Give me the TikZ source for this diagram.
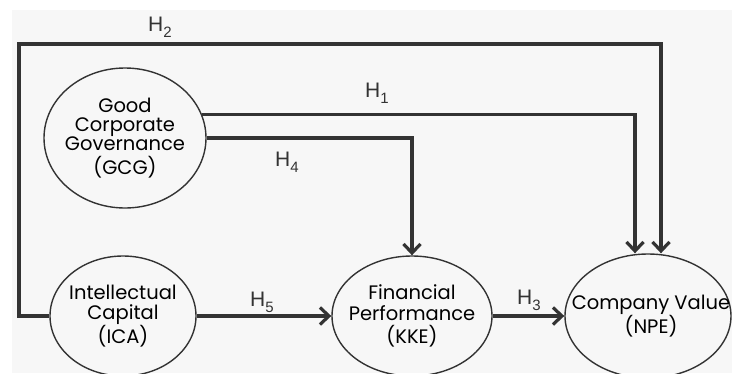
\documentclass[tikz,border=0pt]{standalone}
\usepackage{fontspec}
\setmainfont{Poppins}
\newfontfamily\hfont{Liberation Sans}
\usetikzlibrary{shapes.geometric,arrows.meta}
\definecolor{bgcol}{HTML}{F7F7F7}
\definecolor{linecol}{HTML}{333333}
\newcommand{\hyp}[1]{H\raisebox{-0.28em}{\fontsize{15}{15}\selectfont #1}}
\newcommand{\vartext}[1]{\makebox[0pt]{\smash{\raisebox{-6pt}{\begin{tabular}{@{}c@{}}#1\end{tabular}}}}}

\begin{document}
\begin{tikzpicture}[x=1pt,y=-1pt,
  var/.style={draw=linecol, line width=1.4pt, ellipse, inner sep=0pt,
    font=\fontsize{19.5}{17.2}\selectfont},
  link/.style={draw=linecol, line width=3.2pt, line join=miter,
    -{Straight Barb[length=9pt,width=17pt]}},
  hlabel/.style={font=\hfont\fontsize{21}{21}\selectfont, text=linecol}]
\useasboundingbox (0,0) rectangle (732,373);
\fill[white] (0,0) rectangle (732,373);
\fill[bgcol] (12,10) rectangle (732,373);

\node[var, minimum width=162, minimum height=140] (gcg) at (125,138) {\vartext{Good\\Corporate\\Governance\\(GCG)}};
\node[var, minimum width=146, minimum height=120] (ica) at (123,316) {\vartext{Intellectual\\Capital\\(ICA)}};
\node[var, minimum width=160, minimum height=120] (kke) at (412,316) {\vartext{Financial\\Performance\\(KKE)}};
\node[var, minimum width=166, minimum height=124] (npe) at (648,316) {\hspace{6pt}\vartext{Company Value\\(NPE)}};

\coordinate (h2corner) at (19,44);

\draw[link] (ica.west) -| (h2corner) -| ([xshift=13]npe.north);
\draw[link] (gcg.17.5) -| ([xshift=-13]npe.north);
\draw[link] (gcg.east) -| (kke.north);
\draw[link] (ica.east) -- (kke.west);
\draw[link] (kke.east) -- (npe.west);

\node[hlabel] (lh2) at (160,27) {\hyp{2}};
\node[hlabel] (lh1) at (377,93) {\hyp{1}};
\node[hlabel] (lh4) at (287,162) {\hyp{4}};
\node[hlabel] (lh5) at (262,302) {\hyp{5}};
\node[hlabel] (lh3) at (529,300) {\hyp{3}};
\end{tikzpicture}
\end{document}
